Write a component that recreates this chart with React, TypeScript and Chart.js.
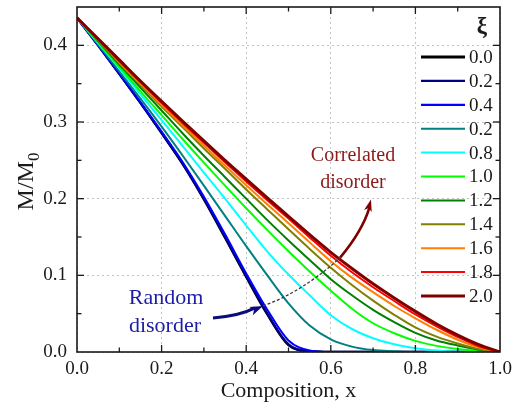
import React, { useEffect, useRef } from "react";
import { Chart, registerables } from "chart.js";

Chart.register(...registerables);

// ---- data ----
const compositionX = [0, 0.05, 0.1, 0.15, 0.2, 0.25, 0.3, 0.35, 0.4, 0.45, 0.5, 0.55, 0.6, 0.65, 0.7, 0.75, 0.8, 0.85, 0.9, 0.95, 1.0];

const xiLabels = ["0.0", "0.2", "0.4", "0.2", "0.8", "1.0", "1.2", "1.4", "1.6", "1.8", "2.0"];

const xi00 = [0.436, 0.400, 0.363, 0.325, 0.2855, 0.245, 0.199, 0.149, 0.098, 0.049, 0.009, 0.001, 0, 0, 0, 0, 0, 0, 0, 0, 0];
const xi02 = [0.436, 0.400, 0.363, 0.325, 0.286, 0.2455, 0.200, 0.150, 0.099, 0.050, 0.010, 0.001, 0, 0, 0, 0, 0, 0, 0, 0, 0];
const xi04 = [0.436, 0.400, 0.3635, 0.326, 0.2875, 0.2475, 0.2025, 0.1535, 0.1025, 0.055, 0.015, 0.002, 0, 0, 0, 0, 0, 0, 0, 0, 0];
const xi06 = [0.436, 0.401, 0.366, 0.3305, 0.294, 0.256, 0.217, 0.1775, 0.138, 0.100, 0.0635, 0.0345, 0.0165, 0.007, 0.0025, 0.001, 0, 0, 0, 0, 0];
const xi08 = [0.436, 0.403, 0.370, 0.336, 0.3025, 0.2685, 0.234, 0.200, 0.165, 0.131, 0.101, 0.074, 0.048, 0.030, 0.018, 0.010, 0.005, 0.002, 0.0005, 0, 0];
const xi10 = [0.436, 0.404, 0.372, 0.340, 0.309, 0.2775, 0.247, 0.217, 0.1875, 0.159, 0.1315, 0.105, 0.080, 0.0565, 0.0375, 0.0245, 0.0145, 0.008, 0.004, 0.0015, 0];
const xi12 = [0.436, 0.4055, 0.375, 0.345, 0.315, 0.285, 0.256, 0.228, 0.200, 0.172, 0.1455, 0.120, 0.095, 0.074, 0.055, 0.039, 0.025, 0.015, 0.0085, 0.003, 0];
const xi14 = [0.436, 0.4065, 0.377, 0.3485, 0.320, 0.293, 0.2655, 0.239, 0.212, 0.186, 0.160, 0.1345, 0.110, 0.0875, 0.067, 0.0485, 0.032, 0.020, 0.011, 0.004, 0];
const xi16 = [0.436, 0.407, 0.378, 0.350, 0.3225, 0.2955, 0.269, 0.243, 0.2175, 0.1925, 0.168, 0.143, 0.1185, 0.097, 0.078, 0.060, 0.044, 0.029, 0.016, 0.006, 0];
const xi18 = [0.436, 0.4078, 0.3795, 0.352, 0.325, 0.2985, 0.273, 0.2475, 0.2225, 0.198, 0.174, 0.1495, 0.1255, 0.104, 0.0845, 0.0665, 0.049, 0.0335, 0.0195, 0.0075, 0];
const xi20 = [0.436, 0.4085, 0.381, 0.3535, 0.327, 0.301, 0.2755, 0.250, 0.2255, 0.201, 0.177, 0.153, 0.130, 0.109, 0.089, 0.0705, 0.053, 0.0365, 0.022, 0.0095, 0];

const seriesValues = [xi00, xi02, xi04, xi06, xi08, xi10, xi12, xi14, xi16, xi18, xi20];

const xTickValues = [0, 0.2, 0.4, 0.6, 0.8, 1.0];
const yTickValues = [0, 0.1, 0.2, 0.3, 0.4];

// ---- styles ----
const seriesColors = ["#000000", "#000080", "#0000ff", "#008080", "#00ffff", "#00ff00", "#008000", "#808000", "#ff8000", "#ff0000", "#800000"];
const seriesWidths = [2.4, 2.4, 2, 2, 2, 2, 2, 2, 2, 2, 3];
const legendWidths = [3, 2.4, 2.2, 2, 2, 2, 2, 2, 2, 2, 3];

const SERIF = "'Liberation Serif', 'Times New Roman', serif";
const TEXT = "#1a1a1a";

function arrowHead(ctx: CanvasRenderingContext2D, tx: number, ty: number, fx: number, fy: number, len: number, wid: number) {
  const a = Math.atan2(ty - fy, tx - fx);
  const bx = tx - len * Math.cos(a);
  const by = ty - len * Math.sin(a);
  const nx = -Math.sin(a) * wid / 2;
  const ny = Math.cos(a) * wid / 2;
  const mx = tx - len * 0.75 * Math.cos(a);
  const my = ty - len * 0.75 * Math.sin(a);
  ctx.beginPath();
  ctx.moveTo(tx, ty);
  ctx.lineTo(bx + nx, by + ny);
  ctx.lineTo(mx, my);
  ctx.lineTo(bx - nx, by - ny);
  ctx.closePath();
  ctx.fill();
}

const framePlugin = {
  id: "frameTicks",
  afterDatasetsDraw(chart: any) {
    const { ctx, chartArea: a, scales } = chart;
    const xs = scales.x;
    const ys = scales.y;
    ctx.save();
    ctx.strokeStyle = "#1a1a1a";
    ctx.lineWidth = 1.3;
    const seg = (x1: number, y1: number, x2: number, y2: number) => {
      ctx.beginPath();
      ctx.moveTo(x1, y1);
      ctx.lineTo(x2, y2);
      ctx.stroke();
    };
    for (let i = 1; i < 10; i++) {
      const px = xs.getPixelForValue(i / 10);
      const len = i % 2 === 0 ? 7 : 4.5;
      seg(px, a.bottom, px, a.bottom - len);
      seg(px, a.top, px, a.top + len);
    }
    for (let i = 1; i <= 8; i++) {
      const py = ys.getPixelForValue(i * 0.05);
      const len = i % 2 === 0 ? 7 : 4.5;
      seg(a.left, py, a.left + len, py);
      seg(a.right, py, a.right - len, py);
    }
    ctx.lineWidth = 1.6;
    ctx.strokeRect(a.left, a.top, a.right - a.left, a.bottom - a.top);
    ctx.restore();
  },
};

const annotationPlugin = {
  id: "annotations",
  afterDatasetsDraw(chart: any) {
    const { ctx, scales } = chart;
    const P = (p: number[]) => [scales.x.getPixelForValue(p[0]), scales.y.getPixelForValue(p[1])];
    ctx.save();

    // dashed connector
    const d0 = P([0.4397, 0.0601]);
    const dc = P([0.533, 0.0784]);
    const d1 = P([0.622, 0.123]);
    ctx.strokeStyle = "#3c3c3c";
    ctx.lineWidth = 1.3;
    ctx.setLineDash([3, 2]);
    ctx.beginPath();
    ctx.moveTo(d0[0], d0[1]);
    ctx.quadraticCurveTo(dc[0], dc[1], d1[0], d1[1]);
    ctx.stroke();
    ctx.setLineDash([]);

    // random disorder arrow
    const r0 = P([0.3215, 0.0444]);
    const rc = P([0.385, 0.0471]);
    const r1 = P([0.4397, 0.0601]);
    ctx.strokeStyle = "#0c0c7a";
    ctx.fillStyle = "#0c0c7a";
    ctx.lineWidth = 3;
    ctx.beginPath();
    ctx.moveTo(r0[0], r0[1]);
    ctx.quadraticCurveTo(rc[0], rc[1], r1[0] - 8, r1[1] + 2);
    ctx.stroke();
    arrowHead(ctx, r1[0], r1[1], rc[0], rc[1], 13, 9);

    // correlated disorder arrow
    const c0 = P([0.622, 0.123]);
    const cc = P([0.675, 0.158]);
    const c1 = P([0.695, 0.199]);
    ctx.strokeStyle = "#800000";
    ctx.fillStyle = "#800000";
    ctx.lineWidth = 2.6;
    ctx.beginPath();
    ctx.moveTo(c0[0], c0[1]);
    ctx.quadraticCurveTo(cc[0], cc[1], c1[0] - 1.5, c1[1] + 8);
    ctx.stroke();
    arrowHead(ctx, c1[0], c1[1], cc[0], cc[1], 12, 8);

    // texts
    ctx.textAlign = "center";
    ctx.textBaseline = "middle";
    ctx.fillStyle = "#8b1a1a";
    ctx.font = `20px ${SERIF}`;
    let t = P([0.6525, 0.256]);
    ctx.fillText("Correlated", t[0], t[1]);
    t = P([0.6525, 0.221]);
    ctx.fillText("disorder", t[0], t[1]);

    ctx.fillStyle = "#1c1ca6";
    ctx.font = `22px ${SERIF}`;
    t = P([0.2104, 0.0706]);
    ctx.fillText("Random", t[0], t[1]);
    t = P([0.208, 0.034]);
    ctx.fillText("disorder", t[0], t[1]);
    ctx.restore();
  },
};

const legendPlugin = {
  id: "xiLegend",
  afterDraw(chart: any) {
    const { ctx, chartArea: a } = chart;
    ctx.save();
    ctx.fillStyle = TEXT;
    ctx.textAlign = "center";
    ctx.textBaseline = "middle";
    ctx.font = `bold 23px ${SERIF}`;
    ctx.fillText("ξ", a.right - 18, a.top + 20);
    ctx.font = `19px ${SERIF}`;
    ctx.textAlign = "left";
    xiLabels.forEach((lab, i) => {
      const yy = a.top + 50 + i * 23.9;
      ctx.strokeStyle = seriesColors[i];
      ctx.lineWidth = legendWidths[i];
      ctx.beginPath();
      ctx.moveTo(a.right - 79, yy);
      ctx.lineTo(a.right - 35, yy);
      ctx.stroke();
      ctx.fillStyle = TEXT;
      ctx.fillText(lab, a.right - 31, yy + 1);
    });
    ctx.restore();
  },
};

const yTitlePlugin = {
  id: "yTitle",
  afterDraw(chart: any) {
    const { ctx, chartArea: a } = chart;
    ctx.save();
    const cy = (a.top + a.bottom) / 2 + 2;
    ctx.translate(33, cy);
    ctx.rotate(-Math.PI / 2);
    ctx.fillStyle = TEXT;
    ctx.textBaseline = "alphabetic";
    ctx.textAlign = "left";
    ctx.font = `24px ${SERIF}`;
    const wMain = ctx.measureText("M/M").width;
    ctx.font = `17px ${SERIF}`;
    const wSub = ctx.measureText("0").width;
    const start = -(wMain + wSub) / 2;
    ctx.font = `24px ${SERIF}`;
    ctx.fillText("M/M", start, 0);
    ctx.font = `17px ${SERIF}`;
    ctx.fillText("0", start + wMain, 6);
    ctx.restore();
  },
};

export default function App() {
  const ref = useRef<HTMLCanvasElement | null>(null);

  useEffect(() => {
    if (!ref.current) return;
    const datasets = seriesValues
      .map((vals, i) => ({
        label: xiLabels[i],
        data: vals.map((v, j) => ({ x: compositionX[j], y: v })),
        borderColor: seriesColors[i],
        backgroundColor: seriesColors[i],
        borderWidth: seriesWidths[i],
        pointRadius: 0,
        fill: false,
        cubicInterpolationMode: "monotone" as const,
      }))
      .reverse();

    const chart = new Chart(ref.current, {
      type: "line",
      data: { datasets },
      plugins: [framePlugin, annotationPlugin, legendPlugin, yTitlePlugin],
      options: {
        animation: false,
        responsive: false,
        devicePixelRatio: 1,
        layout: { padding: { top: 7, right: 18, left: 0, bottom: 0 } },
        plugins: { legend: { display: false }, tooltip: { enabled: false } },
        scales: {
          x: {
            type: "linear",
            min: 0,
            max: 1,
            afterBuildTicks: (s: any) => {
              s.ticks = xTickValues.map((v) => ({ value: v }));
            },
            afterFit: (s: any) => {
              s.height = 52;
              s.paddingLeft = 0;
              s.paddingRight = 0;
            },
            ticks: {
              callback: (v: any) => Number(v).toFixed(1),
              font: { family: SERIF, size: 19 },
              color: TEXT,
              padding: 6,
              maxRotation: 0,
              autoSkip: false,
            },
            grid: { color: "#c2c2c2", lineWidth: 1, drawTicks: false },
            border: { display: false, dash: [2, 3] },
            title: {
              display: true,
              text: "Composition, x",
              font: { family: SERIF, size: 22 },
              color: TEXT,
              padding: { top: 0, bottom: 0 },
            },
          },
          y: {
            type: "linear",
            min: 0,
            max: 0.45,
            afterBuildTicks: (s: any) => {
              s.ticks = yTickValues.map((v) => ({ value: v }));
            },
            afterFit: (s: any) => {
              s.width = 77;
              s.paddingTop = 0;
              s.paddingBottom = 0;
            },
            ticks: {
              callback: (v: any) => Number(v).toFixed(1),
              font: { family: SERIF, size: 19 },
              color: TEXT,
              padding: 10,
              autoSkip: false,
            },
            grid: { color: "#c2c2c2", lineWidth: 1, drawTicks: false },
            border: { display: false, dash: [2, 3] },
            title: { display: false },
          },
        },
      },
    });
    return () => chart.destroy();
  }, []);

  return (
    <div style={{ position: "absolute", left: 0, top: 0, width: 518, height: 404, background: "#fff" }}>
      <canvas ref={ref} width={518} height={404} style={{ width: 518, height: 404, display: "block" }} />
    </div>
  );
}
